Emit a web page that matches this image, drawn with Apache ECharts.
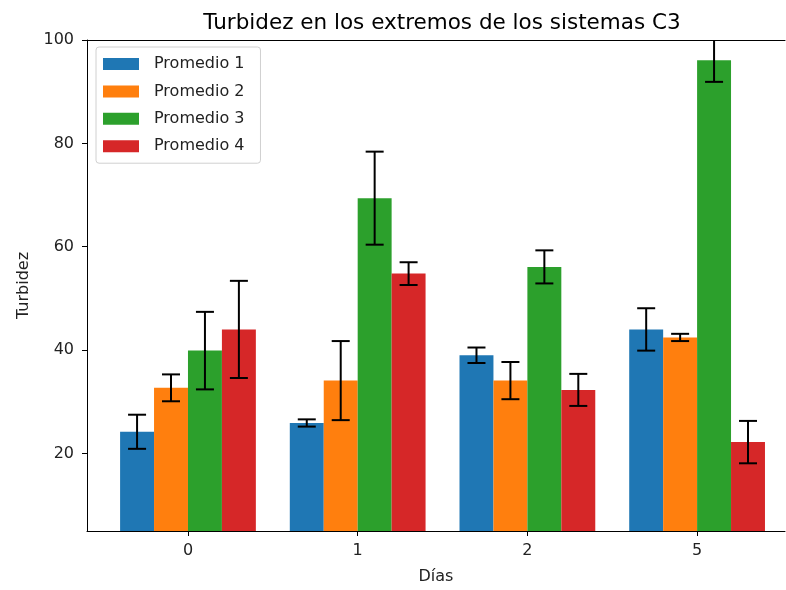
<!DOCTYPE html>
<html>
<head>
<meta charset="utf-8">
<script src="https://cdn.jsdelivr.net/npm/echarts@6/dist/echarts.min.js"></script>
<style>
  html, body { margin: 0; padding: 0; background: #fff; }
  #chart { width: 786px; height: 590px; }
</style>
</head>
<body>
<div id="chart"></div>
<script>
// Days sampled (category labels on the x axis)
const categories = ['0', '1', '2', '5'];
const seriesNames = ['Promedio 1', 'Promedio 2', 'Promedio 3', 'Promedio 4'];

// Mean turbidity per day for each average
const promedio1 = [24.2, 25.9, 39.0, 44.0];
const promedio2 = [32.7, 34.1, 34.1, 42.45];
const promedio3 = [39.9, 69.4, 56.1, 96.1];
const promedio4 = [44.0, 54.8, 32.3, 22.2];

// Error bar half-lengths for each average
const error1 = [3.3, 0.7, 1.5, 4.1];
const error2 = [2.6, 7.65, 3.6, 0.7];
const error3 = [7.5, 9.0, 3.2, 4.2];
const error4 = [9.4, 2.2, 3.1, 4.1];

// Y axis tick labels
const yTicks = [20, 40, 60, 80, 100];

const means = [promedio1, promedio2, promedio3, promedio4];
const errors = [error1, error2, error3, error4];
const colors = ['#1f77b4', '#ff7f0e', '#2ca02c', '#d62728'];

const BAR_W = 0.2;
const Y_MIN = 5, Y_MAX = 100;
const X_MIN = -0.595, X_MAX = 3.518;
const FONT = 'DejaVu Sans';
const catIdx = categories.map((c, i) => i);

function makeRender(offset) {
  return function (params, api) {
    const x = api.value(0) + offset;
    const v = api.value(1);
    const e = api.value(2);
    const a = api.coord([x - BAR_W / 2, v]);
    const b = api.coord([x + BAR_W / 2, Y_MIN]);
    const hi = api.coord([x, v + e]);
    const lo = api.coord([x, v - e]);
    const cap = 9;
    const err = { stroke: '#000', lineWidth: 2 };
    return {
      type: 'group',
      children: [
        {
          type: 'rect',
          shape: { x: a[0], y: a[1], width: b[0] - a[0], height: b[1] - a[1] },
          style: { fill: api.visual('color') }
        },
        { type: 'line', z2: 10, shape: { x1: hi[0], y1: hi[1], x2: lo[0], y2: lo[1] }, style: err },
        { type: 'line', z2: 10, shape: { x1: hi[0] - cap, y1: hi[1], x2: hi[0] + cap, y2: hi[1] }, style: err },
        { type: 'line', z2: 10, shape: { x1: lo[0] - cap, y1: lo[1], x2: lo[0] + cap, y2: lo[1] }, style: err }
      ]
    };
  };
}

const offsets = [-0.3, -0.1, 0.1, 0.3];
const series = seriesNames.map((name, s) => ({
  name: name,
  type: 'custom',
  clip: true,
  itemStyle: { color: colors[s] },
  renderItem: makeRender(offsets[s]),
  encode: { x: 0, y: 1 },
  data: categories.map((c, i) => [i, means[s][i], errors[s][i]])
}));

const chart = echarts.init(document.getElementById('chart'), null, { renderer: 'canvas' });
chart.setOption({
  animation: false,
  backgroundColor: '#fff',
  textStyle: { fontFamily: FONT },
  title: {
    text: 'Turbidez en los extremos de los sistemas C3',
    left: 437,
    textAlign: 'center',
    top: 7,
    textStyle: { fontFamily: FONT, fontSize: 21.5, fontWeight: 'normal', color: '#000' }
  },
  legend: {
    orient: 'vertical',
    left: 96,
    top: 47,
    data: seriesNames.map(n => ({ name: n, icon: 'rect' })),
    itemWidth: 36,
    itemHeight: 12,
    itemGap: 9.4,
    padding: [8, 16, 8, 7],
    backgroundColor: 'rgba(255,255,255,0.8)',
    borderColor: '#d0d0d0',
    borderWidth: 1,
    borderRadius: 3,
    textStyle: { fontFamily: FONT, fontSize: 16, color: '#222', lineHeight: 18, padding: [0, 0, 0, 10] }
  },
  grid: { left: 87, top: 40, right: 1, bottom: 59 },
  xAxis: [
    {
      type: 'value',
      min: X_MIN,
      max: X_MAX,
      name: 'Días',
      nameLocation: 'middle',
      nameGap: 38,
      nameTextStyle: { fontFamily: FONT, fontSize: 16, color: '#222' },
      splitLine: { show: false },
      axisLine: { onZero: false, lineStyle: { color: '#000', width: 1 } },
      axisTick: { show: true, length: 5, lineStyle: { color: '#000' }, customValues: catIdx },
      axisLabel: {
        fontFamily: FONT, fontSize: 16, color: '#222', margin: 12,
        customValues: catIdx,
        formatter: v => categories[Math.round(v)]
      }
    },
    {
      // top spine only
      type: 'value',
      position: 'top',
      min: X_MIN,
      max: X_MAX,
      splitLine: { show: false },
      axisLine: { show: true, onZero: false, lineStyle: { color: '#000', width: 1 } },
      axisTick: { show: false },
      axisLabel: { show: false }
    }
  ],
  yAxis: {
    type: 'value',
    min: Y_MIN,
    max: Y_MAX,
    name: 'Turbidez',
    nameLocation: 'middle',
    nameGap: 55,
    nameTextStyle: { fontFamily: FONT, fontSize: 16, color: '#222' },
    splitLine: { show: false },
    axisLine: { show: true, onZero: false, lineStyle: { color: '#000', width: 1 } },
    axisTick: { show: true, length: 5, lineStyle: { color: '#000' }, customValues: yTicks },
    axisLabel: { fontFamily: FONT, fontSize: 16, color: '#222', margin: 13, customValues: yTicks }
  },
  series: series
});
</script>
</body>
</html>
